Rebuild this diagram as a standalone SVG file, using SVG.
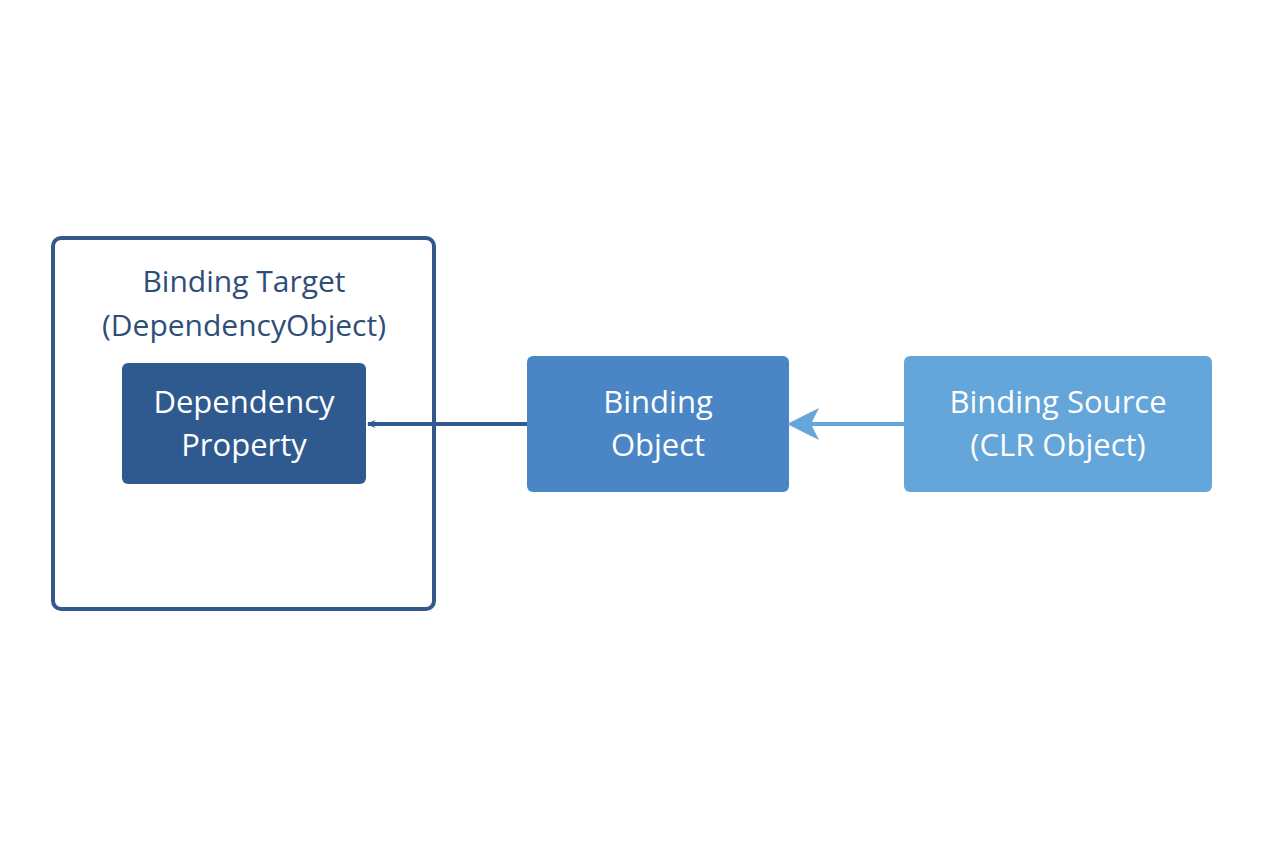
<svg xmlns="http://www.w3.org/2000/svg" width="1264" height="848" viewBox="0 0 1264 848">
<style>
text{font-family:"Open Sans","Noto Sans",sans-serif;text-anchor:middle}
.w{fill:#fff;font-size:31px}
.t{fill:#2E4E78;font-size:30px}
</style>
<defs>
<marker id="a1" markerWidth="8" markerHeight="8" refX="7" refY="4" orient="auto" markerUnits="userSpaceOnUse" viewBox="0 0 8 8"><path d="M0,0 L8,4 L0,8 L2,4 Z" fill="#2F5A8F"/></marker>
<marker id="a2" viewBox="0 0 8 8" refX="7" refY="4" markerWidth="8" markerHeight="8" orient="auto"><path d="M0,0 L8,4 L0,8 L2,4 Z" fill="#64A5DA"/></marker>
</defs>
<rect width="1264" height="848" fill="#fff"/>
<g id="target">
<rect x="53" y="238" width="381" height="371" rx="8" fill="none" stroke="#33598A" stroke-width="4"/>
<text class="t" x="244" y="292">Binding Target</text>
<text class="t" x="244" y="336">(DependencyObject)</text>
</g>
<g id="dp">
<rect x="122" y="363" width="244" height="121" rx="6" fill="#2F5A8F"/>
<text class="w" x="244" y="413">Dependency</text>
<text class="w" x="244" y="456">Property</text>
</g>
<g id="binding">
<rect x="527" y="356" width="262" height="136" rx="6" fill="#4A86C5"/>
<text class="w" x="658" y="413">Binding</text>
<text class="w" x="658" y="456">Object</text>
</g>
<g id="source">
<rect x="904" y="356" width="308" height="136" rx="6" fill="#64A5DA"/>
<text class="w" x="1058" y="413">Binding Source</text>
<text class="w" x="1058" y="456">(CLR Object)</text>
</g>
<g id="connectors">
<line x1="527" y1="424" x2="368" y2="424" stroke="#2F5A8F" stroke-width="4" marker-end="url(#a1)"/>
<line x1="904" y1="424" x2="791" y2="424" stroke="#64A5DA" stroke-width="4" marker-end="url(#a2)"/>
</g>
</svg>
